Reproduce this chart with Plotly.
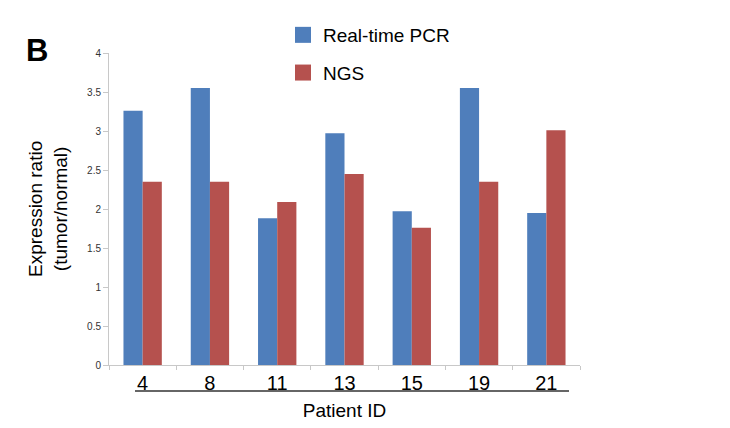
import plotly.graph_objects as go

patients = ["4", "8", "11", "13", "15", "19", "21"]
pcr = [3.26, 3.55, 1.88, 2.97, 1.97, 3.55, 1.95]
ngs = [2.35, 2.35, 2.09, 2.45, 1.76, 2.35, 3.01]
y_ticks = [0, 0.5, 1, 1.5, 2, 2.5, 3, 3.5, 4]
y_tick_text = ["0", "0.5", "1", "1.5", "2", "2.5", "3", "3.5", "4"]

FONT = "Liberation Sans, Arial, sans-serif"
BLUE = "#4F7EBB"
RED = "#B5514E"

# page has an 8px body margin; figure sized to fit the window
W, H = 722, 420

fig = go.Figure()
fig.add_trace(go.Bar(x=patients, y=pcr, name="Real-time PCR",
                     marker=dict(color=BLUE, line=dict(width=0)),
                     showlegend=False))
fig.add_trace(go.Bar(x=patients, y=ngs, name="NGS",
                     marker=dict(color=RED, line=dict(width=0)),
                     showlegend=False))
# legend entries with larger square swatches
fig.add_trace(go.Scatter(x=[None], y=[None], mode="markers", name="Real-time PCR",
                         marker=dict(symbol="square", size=20, color=BLUE),
                         legendgroup="a"))
fig.add_trace(go.Scatter(x=[None], y=[None], mode="markers", name="NGS",
                         marker=dict(symbol="square", size=20, color=RED),
                         legendgroup="b"))

fig.update_layout(
    width=W, height=H,
    margin=dict(l=101, r=150, t=45, b=63, autoexpand=False),
    paper_bgcolor="white", plot_bgcolor="white",
    barmode="group", bargap=0.43, bargroupgap=0,
    font=dict(family=FONT, color="black"),
    showlegend=True,
    legend=dict(xref="container", yref="container",
                x=275 / W, y=1 - 8 / H, xanchor="left", yanchor="top",
                font=dict(size=19, color="black"),
                itemsizing="trace",
                traceorder="grouped", tracegroupgap=10,
                bgcolor="rgba(0,0,0,0)"),
    xaxis=dict(type="category", showgrid=False, showline=True,
               linecolor="#c8c8c8", linewidth=1,
               ticks="outside", tickson="boundaries", ticklen=4,
               tickcolor="#c8c8c8",
               tickfont=dict(size=20, color="black"),
               title=dict(text="Patient ID", font=dict(size=19, color="black"),
                          standoff=10)),
    yaxis=dict(range=[0, 4], showgrid=False, showline=True,
               linecolor="#c8c8c8", linewidth=1,
               ticks="outside", ticklen=5, tickcolor="#c8c8c8",
               tickvals=y_ticks, ticktext=y_tick_text,
               tickfont=dict(size=10, color="#333333"),
               zeroline=False),
)

fig.add_annotation(text="Expression ratio<br>(tumor/normal)", xref="paper", yref="paper",
                   x=(48 - 109) / 471, y=0.5, textangle=-90, showarrow=False,
                   font=dict(size=19, color="black"), xanchor="center", yanchor="middle")
fig.add_annotation(text="<b>B</b>", xref="paper", yref="paper",
                   x=(37 - 109) / 471, y=(365 - 50) / 312, showarrow=False,
                   font=dict(size=31, color="black", family="Liberation Sans, Arial"),
                   xanchor="center", yanchor="middle")
fig.add_shape(type="line", xref="paper", yref="paper",
              x0=(135 - 109) / 471, x1=(569 - 109) / 471,
              y0=-(391 - 365) / 312, y1=-(391 - 365) / 312,
              line=dict(color="#333333", width=1.5))

fig.write_html("out.html")
